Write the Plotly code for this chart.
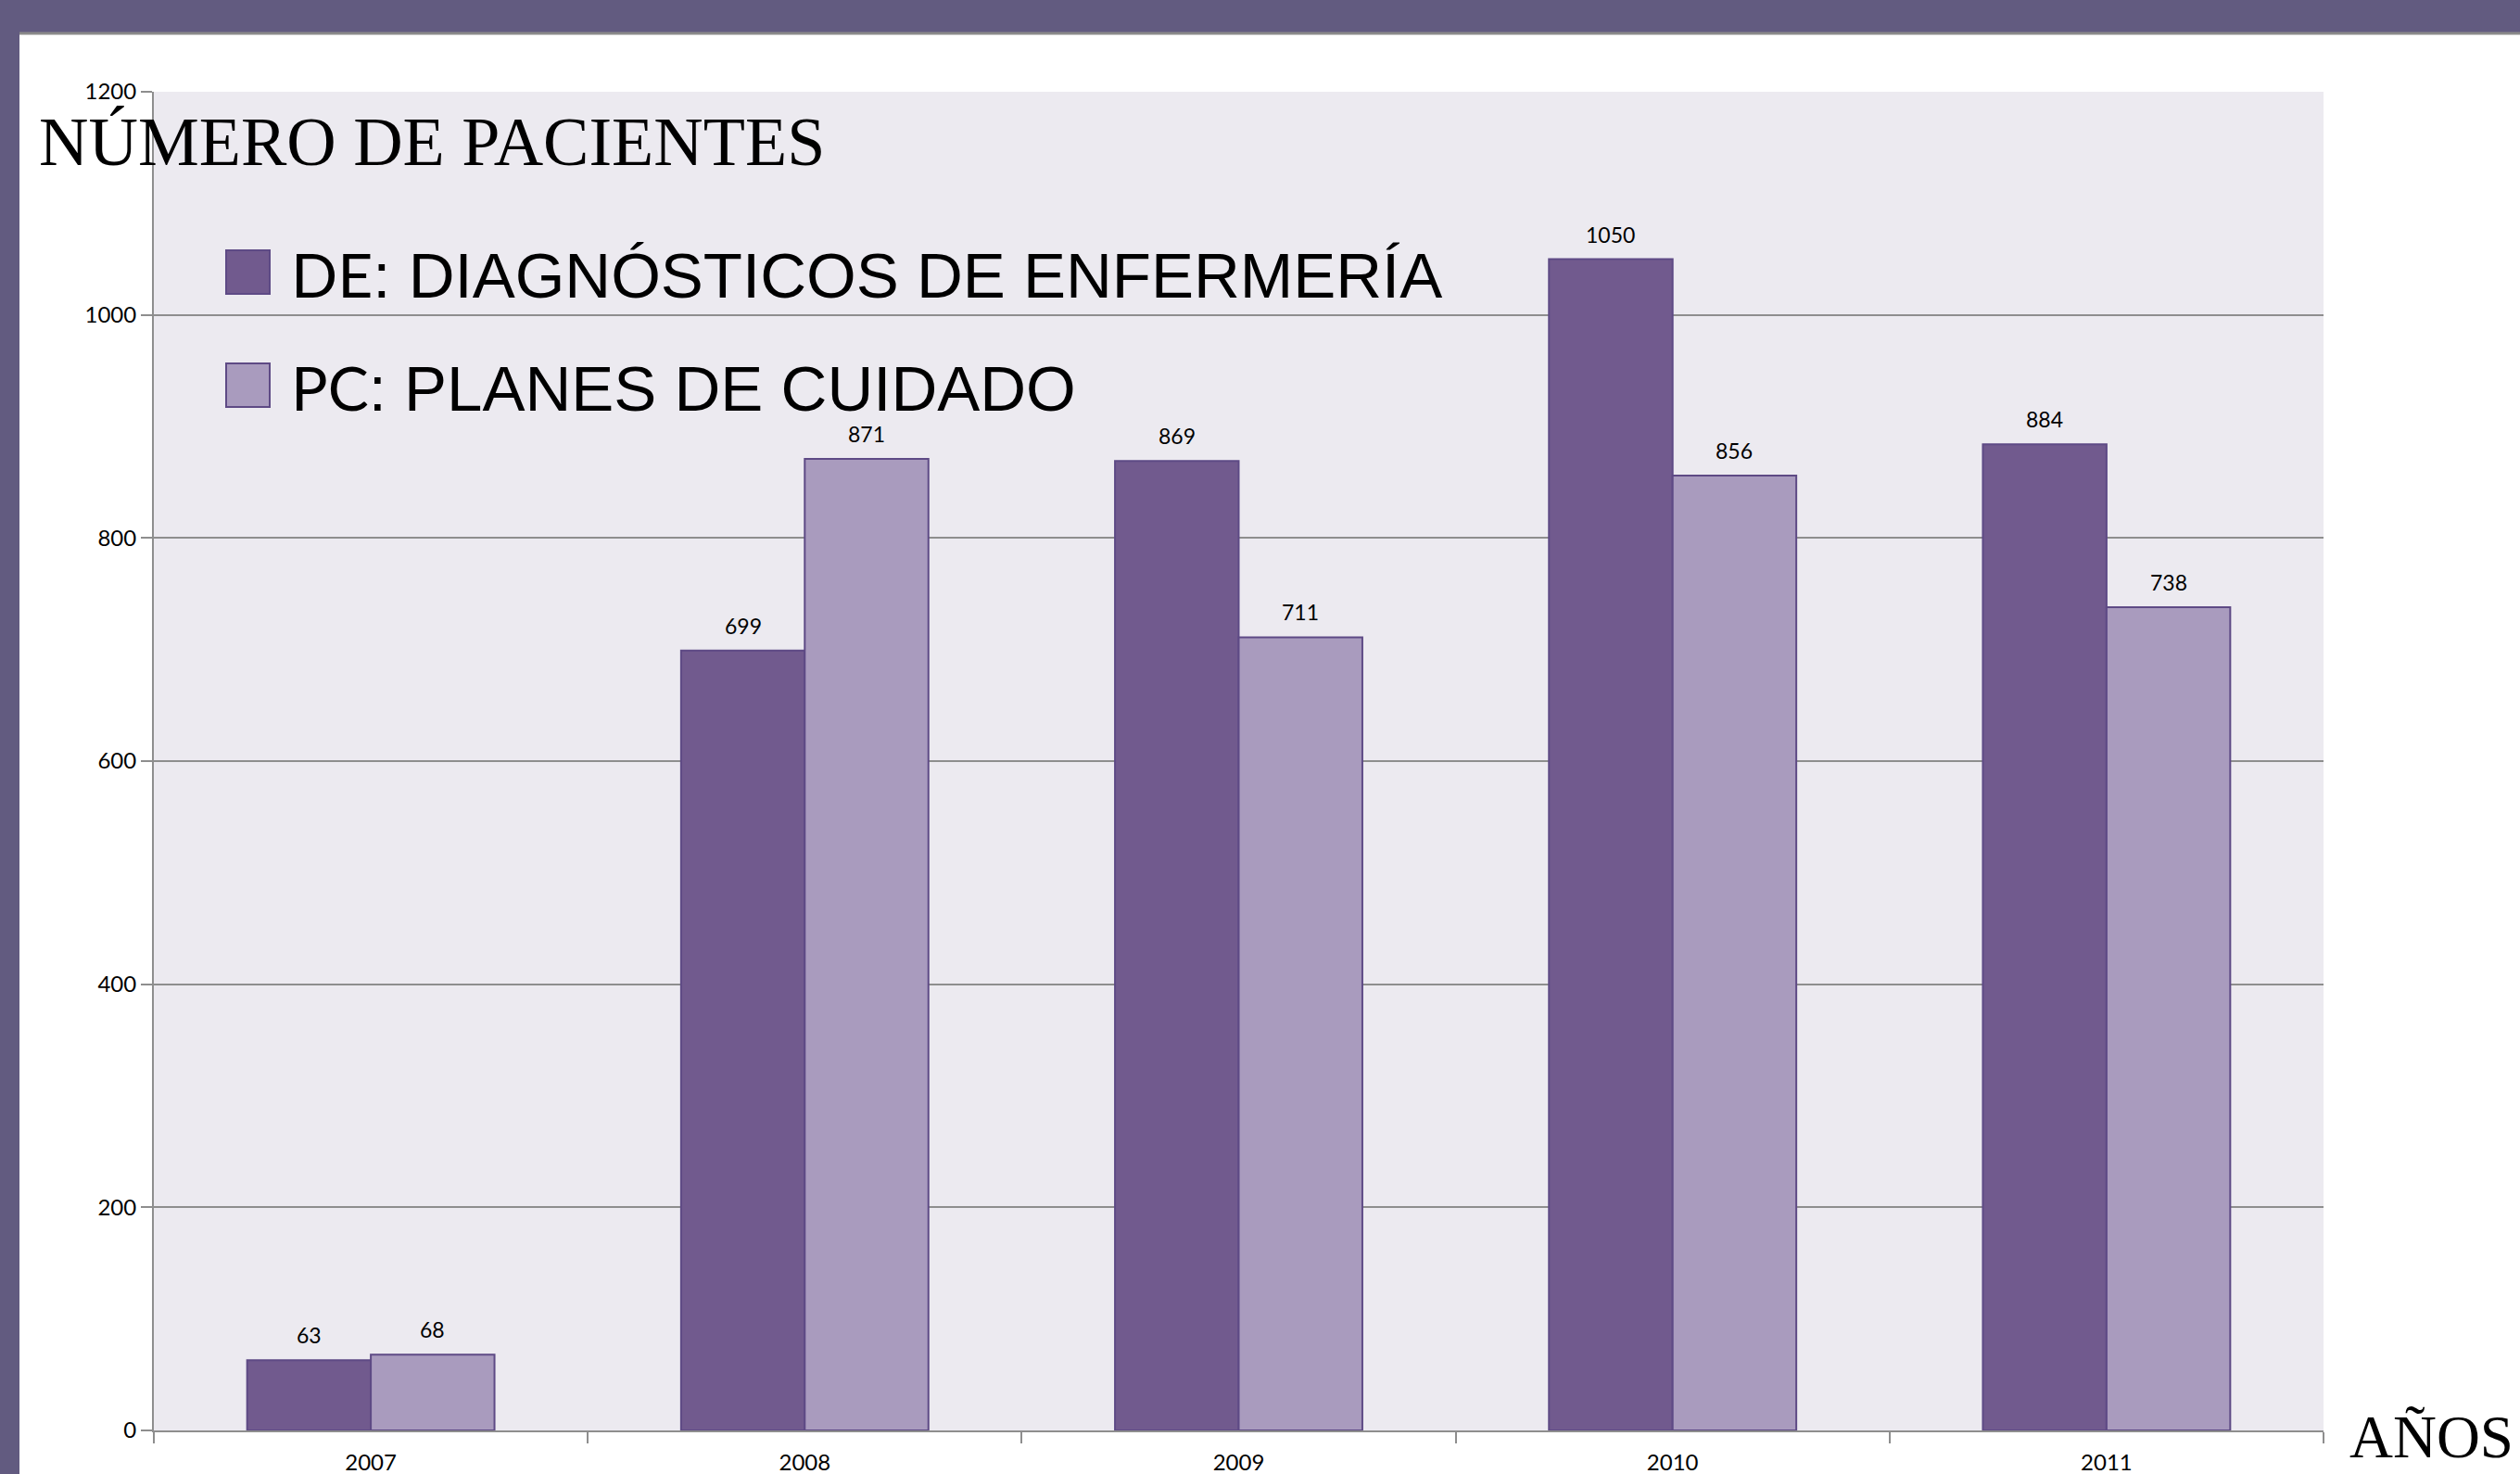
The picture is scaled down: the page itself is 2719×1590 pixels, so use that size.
import plotly.graph_objects as go

# ---- data ----
years = ["2007", "2008", "2009", "2010", "2011"]
de_values = [63, 699, 869, 1050, 884]
pc_values = [68, 871, 711, 856, 738]
legend_codes = ["DE", "PC"]
legend_names = ["DIAGNÓSTICOS DE ENFERMERÍA", "PLANES DE CUIDADO"]
y_title = "NÚMERO DE PACIENTES"
x_title = "AÑOS"

# ---- style ----
W, H = 2719, 1590
ML, MR, MT, MB = 166, 212, 99, 47
PW, PH = W - ML - MR, H - MT - MB
BARGAP = 0.43
C_DE = "#715A8E"
C_PC = "#A99BBE"
C_EDGE = "#5E4A85"
C_FRAME = "#625B80"
GRID = "#8E8E8E"


def px(x):
    return (x - ML) / PW


def py(y):
    return 1 - (y - MT) / PH


fig = go.Figure()
fig.add_trace(go.Bar(x=years, y=de_values, name=legend_codes[0], marker=dict(color=C_DE, line=dict(color=C_EDGE, width=2))))
fig.add_trace(go.Bar(x=years, y=pc_values, name=legend_codes[1], marker=dict(color=C_PC, line=dict(color=C_EDGE, width=2))))

annotations = []
off = (1 - BARGAP) / 4
for i, (a, b) in enumerate(zip(de_values, pc_values)):
    for xv, v in ((i - off, a), (i + off, b)):
        annotations.append(dict(x=xv, y=v, xref="x", yref="y", text=str(v), showarrow=False,
                                yanchor="middle", yshift=27,
                                font=dict(family="Lato", size=23, color="#000000")))

annotations.append(dict(x=px(40), y=py(153), xref="paper", yref="paper", text=y_title, showarrow=False,
                        xanchor="left", yanchor="middle",
                        font=dict(family="Liberation Serif", size=74, color="#000000")))
annotations.append(dict(x=px(2533), y=py(1550), xref="paper", yref="paper", text=x_title, showarrow=False,
                        xanchor="left", yanchor="middle",
                        font=dict(family="Liberation Serif", size=65, color="#000000")))

shapes = [
    dict(type="rect", xref="paper", yref="paper", x0=px(-5), x1=px(W + 5), y0=py(35), y1=py(-5),
         fillcolor=C_FRAME, line=dict(width=0), layer="above"),
    dict(type="rect", xref="paper", yref="paper", x0=px(-5), x1=px(21), y0=py(H + 5), y1=py(-5),
         fillcolor=C_FRAME, line=dict(width=0), layer="above"),
    dict(type="line", xref="paper", yref="paper", x0=px(21), x1=px(W + 5), y0=py(36), y1=py(36),
         line=dict(color="#8A8A8A", width=3), layer="above"),
]

colors = [C_DE, C_PC]
sq_tops = [270, 392]
for code, name, col, top in zip(legend_codes, legend_names, colors, sq_tops):
    shapes.append(dict(type="rect", xref="paper", yref="paper", x0=px(244), x1=px(291), y0=py(top + 47), y1=py(top),
                       fillcolor=col, line=dict(color=C_EDGE, width=2)))
    annotations.append(dict(x=px(312), y=py(top + 26), xref="paper", yref="paper", showarrow=False,
                            xanchor="left", yanchor="middle",
                            text=f"<span style='font-family:Lato;font-size:66px'>{code}</span>: {name}",
                            font=dict(family="Liberation Sans", size=69, color="#000000")))

fig.update_layout(
    width=W, height=H,
    margin=dict(l=ML, r=MR, t=MT, b=MB, pad=0, autoexpand=False),
    barmode="group", bargap=BARGAP, bargroupgap=0,
    paper_bgcolor="#FFFFFF", plot_bgcolor="#ECEAF0",
    showlegend=False,
    annotations=annotations, shapes=shapes,
    xaxis=dict(type="category", tickson="boundaries", ticks="outside", ticklen=12, tickcolor=GRID, tickwidth=2,
               showline=True, linecolor=GRID, linewidth=2, showgrid=False, ticklabelstandoff=12,
               automargin=False,
               tickfont=dict(family="Lato", size=24, color="#000000")),
    yaxis=dict(range=[0, 1200], dtick=200, ticks="outside", ticklen=12, tickcolor=GRID, tickwidth=2,
               showline=True, linecolor=GRID, linewidth=2, gridcolor=GRID, gridwidth=2, zeroline=False,
               automargin=False,
               tickfont=dict(family="Lato", size=24, color="#000000")),
)

fig.write_html("out.html", config={"displayModeBar": False},
               post_script="document.body.style.margin='0';document.body.style.overflow='hidden';")
